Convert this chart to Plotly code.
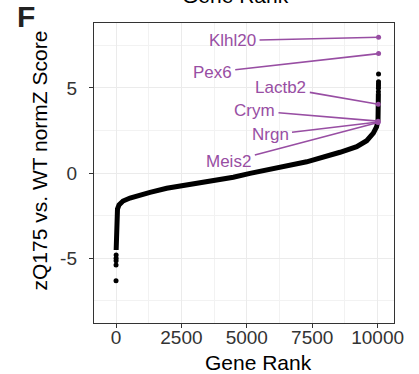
import plotly.graph_objects as go

# ---- data ----
# main dense curve of ranked genes (rank, score)
main_rank = [6, 10, 14, 18, 23, 31, 57, 115, 268, 535, 918, 1300, 1938, 3211,
             4484, 5123, 6014, 7290, 8564, 9202, 9584, 9837, 9960, 10016, 10024, 10030]
main_score = [-4.53, -4.20, -3.80, -3.40, -2.94, -2.47, -2.12, -1.88, -1.65, -1.47,
              -1.29, -1.14, -0.90, -0.61, -0.25, -0.02, 0.28, 0.66, 1.22, 1.55,
              1.90, 2.34, 2.71, 3.12, 4.00, 4.69]

# isolated extreme points
low_rank = [1, 2, 3, 4, 5]
low_score = [-6.34, -5.41, -5.16, -5.02, -4.82]
high_rank = [10031, 10032, 10033, 10034, 10035, 10036]
high_score = [4.78, 4.98, 5.12, 5.24, 5.37, 5.82]

# labelled genes
genes = ["Klhl20", "Pex6", "Lactb2", "Crym", "Nrgn", "Meis2"]
gene_rank = [10038, 10037, 10024, 10019, 10018, 10017]
gene_score = [7.98, 7.02, 4.04, 3.05, 3.00, 2.97]
# label text positions (data coordinates)
label_x = [4454, 3678, 6300, 5295, 5887, 4313]
label_y = [7.78, 5.92, 5.04, 3.66, 2.24, 0.66]

x_ticks = [0, 2500, 5000, 7500, 10000]
y_ticks = [-5, 0, 5]

PURPLE = "#984EA3"
FONT = "Liberation Sans, Arial, Helvetica, sans-serif"

fig = go.Figure()
fig.add_trace(go.Scatter(x=main_rank, y=main_score, mode="lines",
                         line=dict(color="black", width=5), hoverinfo="skip"))
fig.add_trace(go.Scatter(x=low_rank + high_rank, y=low_score + high_score,
                         mode="markers", marker=dict(color="black", size=5),
                         hoverinfo="skip"))
fig.add_trace(go.Scatter(x=gene_rank, y=gene_score, mode="markers",
                         marker=dict(color=PURPLE, size=5), text=genes,
                         hoverinfo="text"))

for g, r, s, lx, ly in zip(genes, gene_rank, gene_score, label_x, label_y):
    fig.add_annotation(x=r, y=s, xref="x", yref="y", ax=lx, ay=ly,
                       axref="x", ayref="y", text=g, showarrow=True,
                       arrowhead=0, arrowwidth=1.6, arrowcolor=PURPLE,
                       standoff=0, borderpad=3,
                       font=dict(family=FONT, size=17, color=PURPLE))

# panel letter
fig.add_annotation(text="<b>F</b>", xref="paper", yref="paper",
                   x=-0.2267, y=1.0233, xanchor="center", yanchor="middle",
                   showarrow=False, font=dict(family=FONT, size=30, color="#222222"))
# cut-off title of panel above
fig.add_annotation(text="Gene Rank", xref="paper", yref="paper",
                   x=0.4733, y=1.046, xanchor="center", yanchor="bottom",
                   showarrow=False, font=dict(family=FONT, size=21, color="black"))
# axis titles
fig.add_annotation(text="Gene Rank", xref="paper", yref="paper",
                   x=0.5477, y=-0.088, xanchor="center", yanchor="top",
                   showarrow=False, font=dict(family=FONT, size=21, color="black"))
fig.add_annotation(text="zQ175 vs. WT normZ Score", xref="paper", yref="paper",
                   x=-0.182, y=0.543, xanchor="center", yanchor="middle",
                   textangle=-90, showarrow=False,
                   font=dict(family=FONT, size=21, color="black"))

axis_common = dict(showline=True, linecolor="#333333", linewidth=1.4, mirror=True,
                   ticks="outside", ticklen=4, tickcolor="#333333", tickwidth=1.2,
                   showgrid=True, gridcolor="#EBEBEB", gridwidth=1.4,
                   zeroline=False,
                   tickfont=dict(family=FONT, size=19, color="#333333"))

fig.update_xaxes(range=[-841, 10627], tickvals=x_ticks,
                 ticktext=[str(v) for v in x_ticks], ticklabelstandoff=-7,
                 minor=dict(showgrid=True, gridcolor="#F2F2F2", gridwidth=0.8,
                            tickvals=[-1250, 1250, 3750, 6250, 8750]),
                 **axis_common)
fig.update_yaxes(range=[-8.82, 8.82], tickvals=y_ticks,
                 ticktext=["-5", "0", "5"], ticklabelstandoff=8,
                 minor=dict(showgrid=True, gridcolor="#F2F2F2", gridwidth=0.8,
                            tickvals=[-7.5, -2.5, 2.5, 7.5]),
                 **axis_common)

fig.update_layout(width=419, height=374, showlegend=False,
                  margin=dict(l=94, r=25, t=23, b=51),
                  paper_bgcolor="white", plot_bgcolor="white",
                  font=dict(family=FONT))

fig.write_html("out.html")
